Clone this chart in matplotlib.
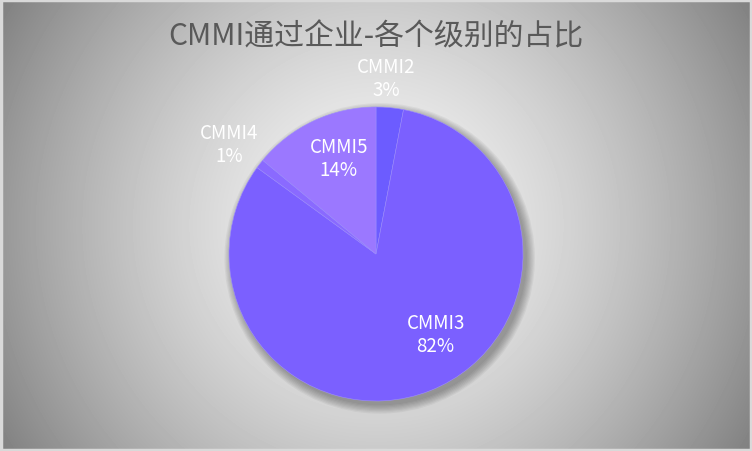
import numpy as np
import matplotlib.pyplot as plt
from matplotlib.patches import Circle, Rectangle

plt.rcParams['font.family'] = ['Noto Sans CJK SC', 'DejaVu Sans']

# data
levels = ['CMMI2', 'CMMI3', 'CMMI4', 'CMMI5']
shares = [3, 82, 1, 14]
colors = ['#6c5cff', '#7b60ff', '#8a6aff', '#9b78ff']
title = 'CMMI通过企业-各个级别的占比'

# label placement (radius in pie units, extra angle in degrees)
label_r = [1.20, 0.68, 1.25, 0.70]
label_shift = [2, 15, 1, -4]

W, H = 752, 452
fig = plt.figure(figsize=(W / 100, H / 100), dpi=100)

# radial grey background
bg = fig.add_axes([0, 0, 1, 1])
yy, xx = np.mgrid[0:H, 0:W]
d = np.hypot(xx - 376, yy - 226)
shade = np.clip(245 - 118 * (d / 439) ** 1.5, 0, 255) / 255
bg.imshow(shade, cmap='gray', vmin=0, vmax=1, extent=[0, W, H, 0], aspect='auto')
bg.add_patch(Rectangle((1, 1), W - 2, H - 2, fill=False, ec='#d9d9d9', lw=2.5))
bg.set_xlim(0, W)
bg.set_ylim(H, 0)
bg.axis('off')

fig.text(376 / W, 1 - 37 / H, title, ha='center', va='center',
         fontsize=21.5, color='#595959')

# pie: centre (376,255) px, radius 147 px
r_px = 147
ax = fig.add_axes([(376 - r_px) / W, (H - 255 - r_px) / H, 2 * r_px / W, 2 * r_px / H])

wedges, _ = ax.pie(shares, colors=colors, startangle=90, counterclock=False,
                   radius=1.0, wedgeprops=dict(ec='#9c8cff', lw=0.4))
for w in wedges:
    w.set_zorder(2)

# soft shadow
for k in range(8):
    ax.add_patch(Circle((0.025, -0.03), 1.0 + 0.008 * k, color='#303030',
                        alpha=0.06, lw=0, zorder=0, clip_on=False))

ax.set_xlim(-1, 1)
ax.set_ylim(-1, 1)
ax.axis('off')

for w, name, val, r, sh in zip(wedges, levels, shares, label_r, label_shift):
    mid = np.radians((w.theta1 + w.theta2) / 2 + sh)
    ax.text(r * np.cos(mid), r * np.sin(mid), f'{name}\n{val}%',
            ha='center', va='center', color='white', fontsize=13.5,
            linespacing=1.1, clip_on=False, zorder=3)

fig.savefig('out.png', dpi=100)
